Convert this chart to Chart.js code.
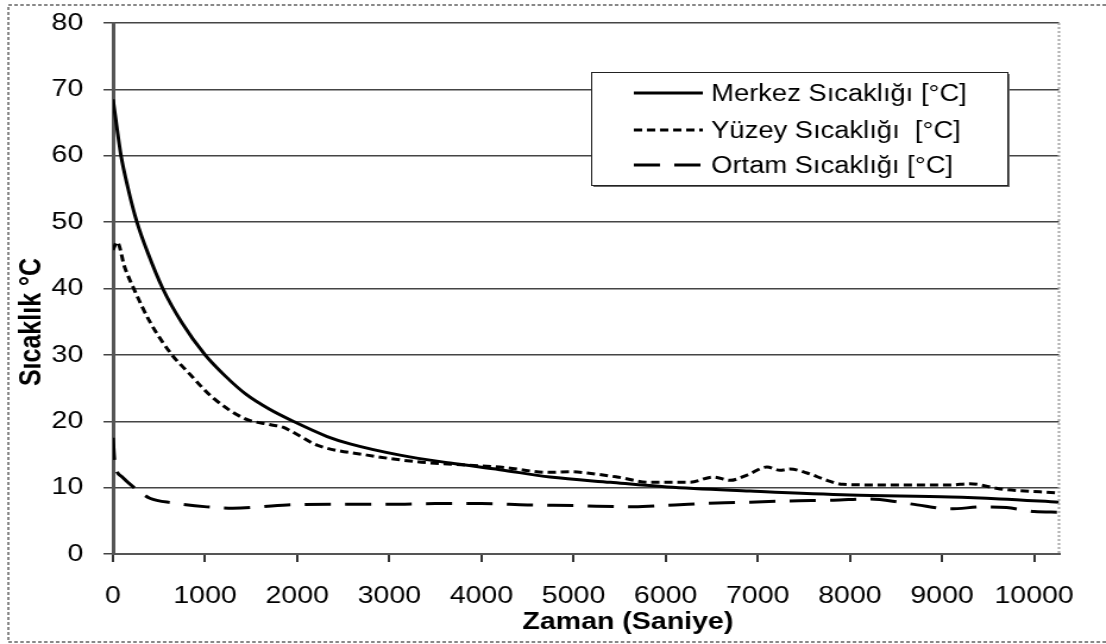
<!DOCTYPE html>
<html>
<head>
<meta charset="utf-8">
<script src="https://cdn.jsdelivr.net/npm/chart.js@4.4.1/dist/chart.umd.min.js"></script>
<style>
  html, body { margin: 0; padding: 0; background: #fff; overflow: hidden; }
  #wrap { width: 1106px; height: 644px; overflow: hidden; }
  /* the canvas is drawn narrower and stretched sideways, like the exported figure */
  #chart { display: block; transform-origin: 0 0; transform: scaleX(1.1892); }
</style>
</head>
<body>
<div id="wrap"><canvas id="chart" width="930" height="644"></canvas></div>
<script>
// Merkez (centre) temperature, solid line
const merkezTime = [0, 40, 85, 165, 260, 380, 540, 750, 1000, 1220, 1450, 1700, 1955, 2325, 2573, 3116, 3660, 4200, 4745, 5400, 6015, 6916, 8000, 9090, 9630, 10270];
const merkezTemp = [68.5, 64.5, 60.2, 55, 50, 45.3, 40, 34.8, 30, 26.8, 24.0, 21.8, 20, 17.7, 16.6, 14.9, 13.7, 12.7, 11.6, 10.8, 10.1, 9.5, 8.9, 8.6, 8.3, 7.8];

// Yüzey (surface) temperature, short dashes
const yuzeyTime = [0, 45, 127, 225, 400, 640, 814, 1080, 1430, 1700, 1845, 2000, 2215, 2758, 3300, 3843, 4200, 4745, 4962, 5150, 5472, 5830, 6265, 6515, 6700, 6884, 7100, 7242, 7350, 7535, 7752, 7926, 8360, 9090, 9300, 9630, 10270];
const yuzeyTemp = [45.8, 47.0, 43.2, 40, 35.0, 30, 27.4, 23.6, 20.4, 19.5, 19.1, 18.0, 16.4, 14.9, 13.9, 13.4, 13.1, 12.3, 12.4, 12.2, 11.6, 10.8, 10.8, 11.6, 11.1, 11.9, 13.1, 12.6, 12.8, 12.2, 11.1, 10.5, 10.4, 10.4, 10.6, 9.8, 9.2];

// Ortam (ambient) temperature, long dashes
const ortamTime = [0, 20, 100, 220, 400, 650, 1020, 1300, 1890, 2460, 3000, 3500, 4000, 4500, 5000, 5650, 6100, 6560, 6916, 7350, 7820, 8220, 8545, 8730, 9090, 9450, 9700, 10000, 10270];
const ortamTemp = [17.5, 13.7, 11.6, 10.1, 8.4, 7.7, 7.1, 6.9, 7.4, 7.5, 7.5, 7.6, 7.6, 7.4, 7.3, 7.1, 7.4, 7.7, 7.8, 8.0, 8.1, 8.3, 7.8, 7.4, 6.8, 7.1, 7.0, 6.4, 6.3];

const seriesLabels = ['Merkez Sıcaklığı [°C]', 'Yüzey Sıcaklığı  [°C]', 'Ortam Sıcaklığı [°C]'];
const xTicks = [0, 1000, 2000, 3000, 4000, 5000, 6000, 7000, 8000, 9000, 10000];
const xTitle = 'Zaman (Saniye)';
const yTitle = 'Sıcaklık °C';

const FONT = "'Liberation Sans', Arial, sans-serif";
const tickFont = { family: FONT, size: 24 };

function toPoints(times, temps) {
    return times.map((t, i) => ({ x: t, y: temps[i] }));
}

function lineSet(label, times, temps, dash) {
    return {
        label: label,
        data: toPoints(times, temps),
        borderColor: '#000',
        borderWidth: 3,
        borderDash: dash,
        pointRadius: 0,
        cubicInterpolationMode: 'monotone',
        fill: false
    };
}

// frame, axis titles and the boxed legend
const decorations = {
    id: 'decorations',
    afterDraw(chart) {
        const ctx = chart.ctx;
        const area = chart.chartArea;
        ctx.save();

        // dotted outer frame
        ctx.strokeStyle = '#888';
        ctx.lineWidth = 2;
        ctx.setLineDash([3, 2]);
        ctx.beginPath();
        ctx.moveTo(chart.width + 5, 5);
        ctx.lineTo(7, 5);
        ctx.lineTo(7, 642);
        ctx.lineTo(chart.width + 5, 642);
        ctx.stroke();

        // light right edge of the plot
        ctx.strokeStyle = '#aaa';
        ctx.setLineDash([2, 2]);
        ctx.beginPath();
        ctx.moveTo(area.right, area.top);
        ctx.lineTo(area.right, area.bottom);
        ctx.stroke();
        ctx.setLineDash([]);

        // axis titles
        ctx.fillStyle = '#000';
        ctx.textAlign = 'center';
        ctx.textBaseline = 'middle';
        ctx.font = `bold 24px ${FONT}`;
        ctx.fillText(xTitle, 528, 622);
        ctx.save();
        ctx.translate(27, 322);
        ctx.rotate(-Math.PI / 2);
        ctx.font = `bold 25px ${FONT}`;
        ctx.fillText(yTitle, 0, 0);
        ctx.restore();

        // legend box
        const bx = 497, by = 72, bw = 350, bh = 113;
        ctx.fillStyle = '#666';
        ctx.fillRect(bx + 2, by + 2, bw, bh);
        ctx.fillStyle = '#fff';
        ctx.fillRect(bx, by, bw, bh);
        ctx.strokeStyle = '#222';
        ctx.lineWidth = 1;
        ctx.strokeRect(bx + 0.5, by + 0.5, bw, bh);

        const rows = [95, 132, 167];
        ctx.textAlign = 'left';
        ctx.font = `23px ${FONT}`;
        chart.data.datasets.forEach((ds, i) => {
            const y = rows[i];
            ctx.strokeStyle = '#000';
            ctx.lineWidth = 3;
            ctx.setLineDash(ds.borderDash);
            ctx.beginPath();
            ctx.moveTo(533, y - 2);
            ctx.lineTo(591, y - 2);
            ctx.stroke();
            ctx.setLineDash([]);
            ctx.fillStyle = '#000';
            ctx.fillText(ds.label, 598, y);
        });

        ctx.restore();
    }
};

new Chart(document.getElementById('chart'), {
    type: 'line',
    data: {
        datasets: [
            lineSet(seriesLabels[0], merkezTime, merkezTemp, []),
            lineSet(seriesLabels[1], yuzeyTime, yuzeyTemp, [7, 4]),
            lineSet(seriesLabels[2], ortamTime, ortamTemp, [22, 12])
        ]
    },
    options: {
        responsive: false,
        animation: false,
        layout: { padding: { top: 23, right: 39.5, bottom: 0, left: 0 } },
        plugins: {
            legend: { display: false },
            tooltip: { enabled: false }
        },
        scales: {
            x: {
                type: 'linear',
                min: 0,
                max: 10270,
                afterBuildTicks: scale => { scale.ticks = xTicks.map(v => ({ value: v })); },
                afterFit: scale => { scale.height = 90; },
                grid: { drawOnChartArea: false, drawTicks: true, tickLength: 8, color: '#333', lineWidth: 2 },
                border: { display: true, color: '#555', width: 2 },
                ticks: { font: tickFont, color: '#000', padding: 20, maxRotation: 0, autoSkip: false, callback: v => String(v) }
            },
            y: {
                min: 0,
                max: 80,
                afterFit: scale => {
                    scale.width = 95;
                    scale.paddingTop = 0;
                    scale.paddingBottom = 0;
                },
                grid: { color: '#444', lineWidth: 1.5, tickLength: 8 },
                border: { display: true, color: '#555', width: 3 },
                ticks: { stepSize: 10, font: tickFont, color: '#000', padding: 17 }
            }
        }
    },
    plugins: [decorations]
});
</script>
</body>
</html>
